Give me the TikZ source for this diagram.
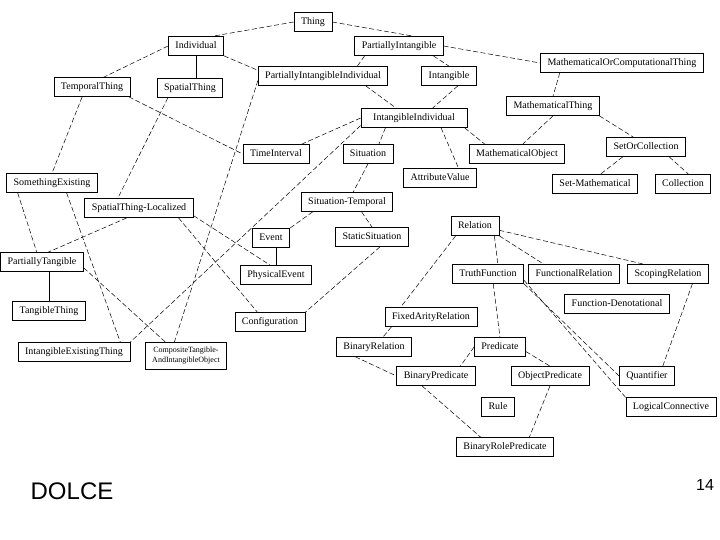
\documentclass[tikz,border=0pt]{standalone}
\usepackage{fontspec}
\setmainfont{Liberation Serif}
\setsansfont{Liberation Sans}
\begin{document}
\begin{tikzpicture}[x=1pt,y=-1pt,
    box/.style={draw,line width=0.7pt,inner xsep=7pt},
    cls/.style={box,inner ysep=0pt,text height=7pt,text depth=2pt,minimum height=19pt,font=\fontsize{10}{12}\selectfont},
    isa/.style={line width=0.5pt,dash pattern=on 5pt off 2.5pt},
    isasolid/.style={line width=0.6pt}]
  \useasboundingbox (0,0) rectangle (720,540);
  % classes, top to bottom
  \node[cls] (thing) at (313,22) {Thing};
  \node[cls] (individual) at (196,46) {Individual};
  \node[cls] (partint) at (399,46) {PartiallyIntangible};
  \node[cls] (mathcomp) at (622,63) {MathematicalOrComputationalThing};
  \node[cls] (temporal) at (92,87) {TemporalThing};
  \node[cls] (spatial) at (190,88) {SpatialThing};
  \node[cls] (pii) at (323,76) {PartiallyIntangibleIndividual};
  \node[cls] (intangible) at (449,76) {Intangible};
  \node[cls] (maththing) at (553,106) {MathematicalThing};
  \node[cls,minimum width=106pt] (intind) at (414,118) {IntangibleIndividual};
  \node[cls] (timeint) at (276,154) {TimeInterval};
  \node[cls] (situation) at (368,154) {Situation};
  \node[cls] (mathobj) at (517,154) {MathematicalObject};
  \node[cls] (setcoll) at (646,147) {SetOrCollection};
  \node[cls] (attval) at (440,178) {AttributeValue};
  \node[cls] (setmath) at (595,184) {Set-Mathematical};
  \node[cls] (collection) at (683,184) {Collection};
  \node[cls] (someexist) at (52,183) {SomethingExisting};
  \node[cls] (stloc) at (139,208) {SpatialThing-Localized};
  \node[cls] (sittemp) at (347,202) {Situation-Temporal};
  \node[cls] (event) at (271,238) {Event};
  \node[cls] (statsit) at (372,237) {StaticSituation};
  \node[cls] (relation) at (475,226) {Relation};
  \node[cls] (parttang) at (42,262) {PartiallyTangible};
  \node[cls] (physevent) at (276,275) {PhysicalEvent};
  \node[cls] (truthfn) at (488,274) {TruthFunction};
  \node[cls] (funcrel) at (574,274) {FunctionalRelation};
  \node[cls] (scoprel) at (668,274) {ScopingRelation};
  \node[cls] (fundenot) at (617,304) {Function-Denotational};
  \node[cls] (tangthing) at (49,311) {TangibleThing};
  \node[cls] (config) at (270,322) {Configuration};
  \node[cls] (fixedar) at (431,317) {FixedArityRelation};
  \node[cls] (binrel) at (374,347) {BinaryRelation};
  \node[cls] (predicate) at (500,347) {Predicate};
  \node[cls] (binpred) at (436,376) {BinaryPredicate};
  \node[cls] (objpred) at (550,376) {ObjectPredicate};
  \node[cls] (quantifier) at (647,376) {Quantifier};
  \node[cls] (intexist) at (74,352) {IntangibleExistingThing};
  \node[box,align=center,inner ysep=3pt,minimum height=27pt,font=\fontsize{8}{10}\selectfont]
    (composite) at (186,356) {CompositeTangible-\\AndIntangibleObject};
  \node[cls] (rule) at (498,407) {Rule};
  \node[cls] (logconn) at (671,407) {LogicalConnective};
  \node[cls] (binrolepred) at (505,447) {BinaryRolePredicate};
  % slide texts
  \node[font=\sffamily\fontsize{24}{28}\selectfont] (title) at (72,491) {DOLCE};
  \node[font=\sffamily\fontsize{16}{19}\selectfont] (pagenum) at (705,485) {14};
  % links
  \draw[isa] (thing.west) -- (individual.30);
  \draw[isa] (thing.east) -- (partint.35);
  \draw[isa] (partint.east) -- (mathcomp.west);
  \draw[isa] (individual.west) -- (temporal.40);
  \draw[isasolid] (individual.south) -- (individual.south |- spatial.north);
  \draw[isa] (individual.south east) -- (pii.175);
  \draw[isa] (partint.196) -- (pii.16);
  \draw[isa] (partint.-16) -- (intangible.north);
  \draw[isa] (mathcomp.189) -- (maththing.north);
  \draw[isa] (pii.-13) -- (intind.151);
  \draw[isa] (intangible.-48) -- (intind.28);
  \draw[isa] (maththing.south) -- (mathobj.60);
  \draw[isa] (maththing.-12) -- (setcoll.142);
  \draw[isa] (intind.west) -- (timeint.21);
  \draw[isa] (intind.199) -- (situation.42);
  \draw[isa] (intind.-20) -- (attval.28);
  \draw[isa] (intind.-11) -- (mathobj.163);
  \draw[isa] (intind.188) -- (intexist.north east);
  \draw[isa] (temporal.225) -- (someexist.north);
  \draw[isa] (temporal.-15) -- (timeint.west);
  \draw[isa] (spatial.204) -- (stloc.155);
  \draw[isa] (someexist.196) -- (parttang.118);
  \draw[isa] (someexist.-34) -- (intexist.12);
  \draw[isa] (stloc.219) -- (parttang.58);
  \draw[isa] (stloc.-8) -- (physevent.121);
  \draw[isa] (stloc.-14) -- (config.142);
  \draw[isasolid] (tangthing.north |- parttang.south) -- (tangthing.north);
  \draw[isa] (parttang.-8) -- (composite.146);
  \draw[isa] (pii.184) -- (composite.130);
  \draw[isa] (situation.south) -- (sittemp.58);
  \draw[isa] (sittemp.196) -- (event.north east);
  \draw[isa] (sittemp.-34) -- (statsit.north);
  \draw[isasolid] (physevent.north |- event.south) -- (physevent.north);
  \draw[isa] (statsit.-51) -- (config.north east);
  \draw[isa] (relation.-27) -- (truthfn.45);
  \draw[isa] (relation.south east) -- (funcrel.162);
  \draw[isa] (relation.-10) -- (scoprel.158);
  \draw[isa] (relation.207) -- (fixedar.162);
  \draw[isa] (truthfn.-62) -- (predicate.north);
  \draw[isa] (truthfn.south east) -- (quantifier.west);
  \draw[isa] (truthfn.-10) -- (logconn.168);
  \draw[isa] (scoprel.-22) -- (quantifier.32);
  \draw[isa] (fixedar.194) -- (binrel.48);
  \draw[isa] (binrel.208) -- (binpred.west);
  \draw[isa] (predicate.west) -- (binpred.22);
  \draw[isa] (predicate.-10) -- (objpred.north);
  \draw[isa] (binpred.215) -- (binrolepred.158);
  \draw[isa] (objpred.south) -- (binrolepred.22);
  \draw[isa] (setcoll.203) -- (setmath.61);
  \draw[isa] (setcoll.-23) -- (collection.61);
\end{tikzpicture}
\end{document}
